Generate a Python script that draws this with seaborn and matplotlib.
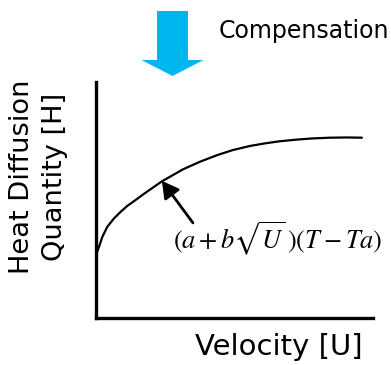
import matplotlib
matplotlib.use("Agg")
import matplotlib.pyplot as plt
import seaborn as sns

# curve (axes scaled 0-100, no ticks in the original)
velocity = [0, 1.1, 2.3, 4.1, 6.5, 8.9, 11.3, 14.3, 17.3, 20.6, 23.8, 31.4, 37.5,
            43.7, 49.5, 55.6, 61.0, 66.4, 72.6, 78.3, 84.5, 90.6, 96.0]
heat = [26.7, 30.2, 34.4, 38.7, 42.2, 45.0, 47.5, 50.0, 52.6, 55.3, 57.9, 63.0, 66.2,
        69.0, 71.2, 72.9, 74.0, 74.9, 75.6, 76.1, 76.4, 76.5, 76.4]

# point on the curve the formula points at, and where the arrow starts
note_tip = (23.8, 58.1)
note_tail = (35, 40.3)

sns.set_theme(style="white")
plt.rcParams['font.family'] = ['DejaVu Sans']
plt.rcParams['mathtext.fontset'] = 'stix'

W, H = 391, 365
fig = plt.figure(figsize=(W / 100, H / 100), dpi=100)

ax = fig.add_axes([96 / W, (H - 318) / H, 277 / W, 236 / H])
sns.lineplot(x=velocity, y=heat, ax=ax, color="black", linewidth=1.6)
ax.set_xlim(0, 100)
ax.set_ylim(0, 100)
ax.set_xticks([])
ax.set_yticks([])
sns.despine(ax=ax)
for side in ["left", "bottom"]:
    ax.spines[side].set_color("black")
    ax.spines[side].set_linewidth(2.4)

ax.annotate("", xy=note_tip, xytext=note_tail,
            arrowprops=dict(arrowstyle="-|>,head_length=0.5,head_width=0.28",
                            mutation_scale=20, lw=2.0, color="black",
                            shrinkA=0, shrinkB=0))

fig.text(173 / W, 1 - 239 / H, r'$(a+b\sqrt{U}\,)(T-Ta)$', ha="left", va="center",
         fontsize=19, color="black")

fig.text(195 / W, 1 - 355 / H, "Velocity [U]", ha="left", va="baseline",
         fontsize=21, color="black")
fig.text(39 / W, 1 - 177 / H, "Heat Diffusion\nQuantity [H]", rotation=90,
         ha="center", va="center", multialignment="center",
         fontsize=19.6, color="black", linespacing=1.35)

# blue "compensation" arrow on top
over = fig.add_axes([0, 0, 1, 1])
over.set_xlim(0, W)
over.set_ylim(H, 0)
over.axis("off")
over.arrow(172.5, 11, 0, 65, width=31, head_width=62, head_length=16,
           length_includes_head=True, color="#00B6EF", linewidth=0)
fig.text(219 / W, 1 - 37.7 / H, "Compensation", ha="left", va="baseline",
         fontsize=17, color="black")

fig.savefig("out.png", dpi=100)
